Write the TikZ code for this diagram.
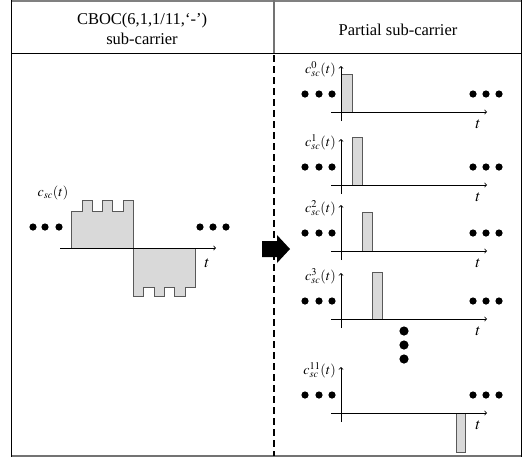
\documentclass[tikz,border=0pt]{standalone}
\usepackage{mathptmx}
\usepackage{fontspec}
\setmainfont{Liberation Serif}
\usetikzlibrary{calc}

\begin{document}
\begin{tikzpicture}[x=1pt,y=-1pt,
    axis/.style={line width=0.8pt,->},
    pulse/.style={fill=black!15,draw=black!65,line width=0.9pt},
    lbl/.style={font=\fontsize{14}{16}\selectfont,inner sep=0pt},
    tlbl/.style={font=\fontsize{16}{18}\selectfont,inner sep=0pt},
    head/.style={font=\fontsize{16.5}{20}\selectfont,align=center,inner sep=0pt}]
        \useasboundingbox (0,0) rectangle (529,459);
        % frame
        \draw[black!50,line width=2pt] (11,1) -- (522,1);
        \draw[black!55,line width=1.5pt] (11,456) -- (522,456);
        \draw[line width=1.3pt] (11.5,0) -- (11.5,457);
        \draw[line width=1.3pt] (521.5,0) -- (521.5,457);
        \draw[line width=1pt] (11,53) -- (522,53);
        \draw[black!55,line width=1.5pt] (274,0) -- (274,53);
        \draw[line width=1.8pt,dash pattern=on 7pt off 4pt] (274,55) -- (274,456);
        \node[head] (hleft) at (142,29) {CBOC(6,1,1/11,‘-’)\\sub-carrier};
        \node[head] (hright) at (398,30) {Partial sub-carrier};
        % full sub-carrier
        \filldraw[pulse] (71,248) -- (71,211) -- (82,211) -- (82,200) -- (92,200) -- (92,211)
            -- (102,211) -- (102,200) -- (112,200) -- (112,211) -- (123,211) -- (123,200)
            -- (133,200) -- (133,296) -- (143,296) -- (143,287) -- (154,287) -- (154,296)
            -- (164,296) -- (164,287) -- (174,287) -- (174,296) -- (185,296) -- (185,287)
            -- (195,287) -- (195,248) -- cycle;
        \draw[axis] (60,248) -- (216,248);
        \node[lbl] (csc) at (53,193) {$c_{sc}(t)$};
        \node[tlbl] (tl) at (207,263) {$t$};
        \foreach \x in {33,45,59,200,213,226}
            \fill (\x,227) circle (3.6);
        % arrow
        \fill (262,241) -- (277,241) -- (277,235) -- (290,249) -- (277,263) -- (277,257) -- (262,257) -- cycle;
        % partial sub-carriers
        \foreach \ay/\xa/\xb/\ytop/\k in {112/341/352/74/0, 185/352/362/137/1, 251/362/372/212/2, 319/372/382/272/3, 413/456/465/452/11} {
            \filldraw[pulse] (\xa,\ay) rectangle (\xb,\ytop);
            \draw[axis] (331,\ay) -- (487,\ay);
            \draw[axis] (341,\ay+9) -- (341,\ay-46);
            \node[lbl,anchor=east] (c\k) at (336,\ay-43) {$c_{sc}^{\k}(t)$};
            \node[tlbl] (t\k) at (478,\ay+12) {$t$};
            \foreach \x in {305,319,332,473,486,499}
                \fill (\x,\ay-18) circle (3.6);
        }
        \foreach \y in {331,345,359}
            \fill (404,\y) circle (4.6);
    \end{tikzpicture}
\end{document}
